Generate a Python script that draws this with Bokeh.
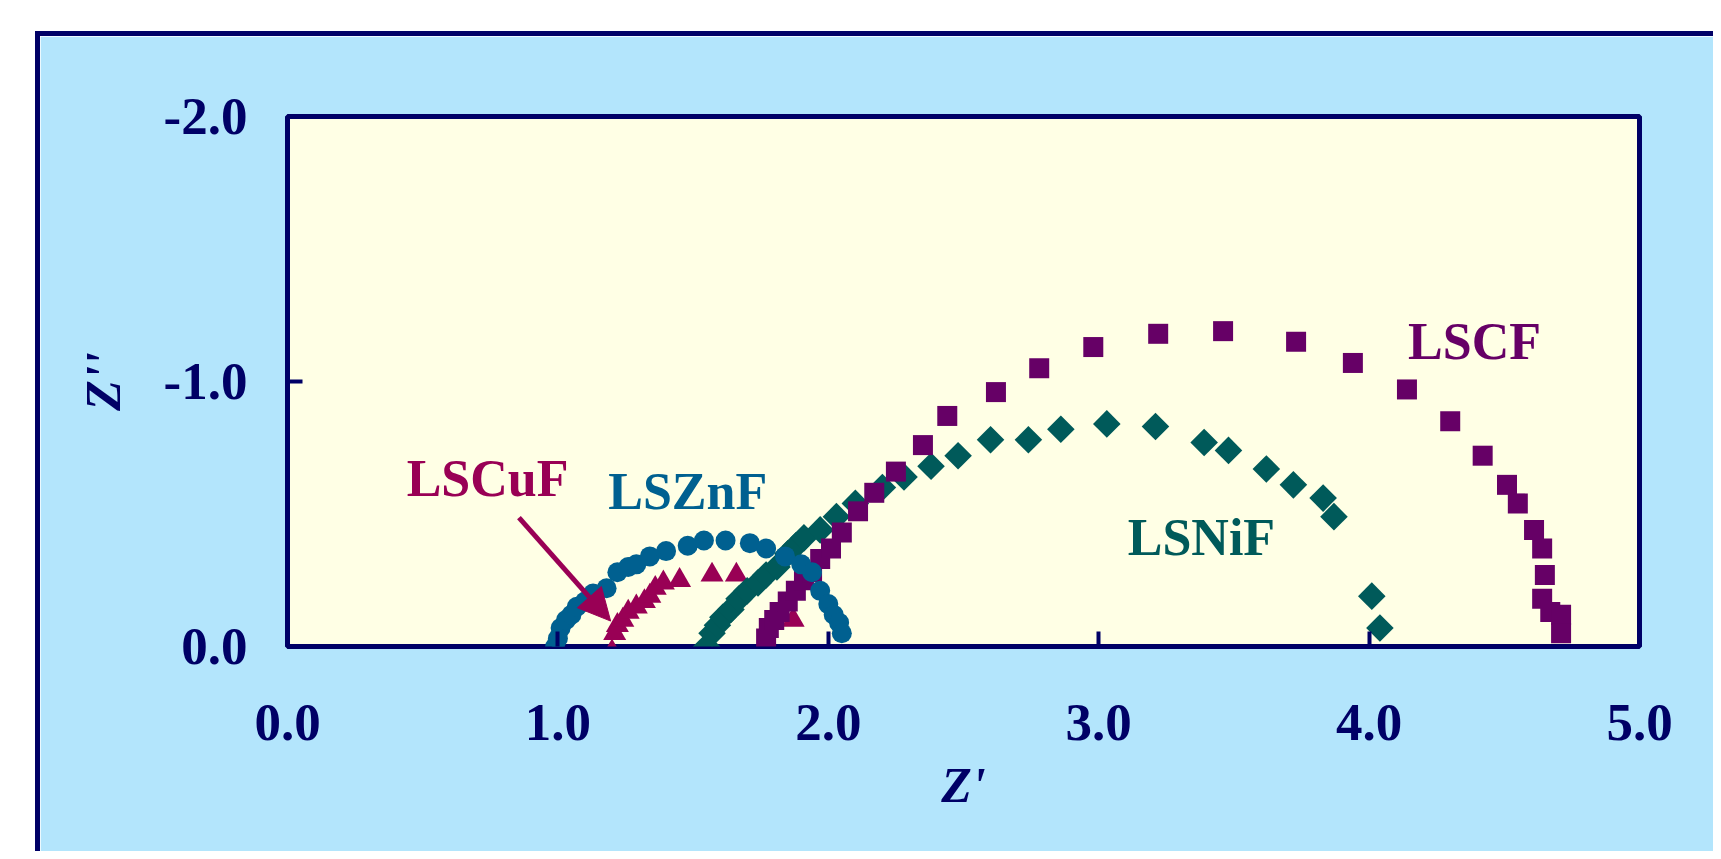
import numpy as np
from bokeh.plotting import figure
from bokeh.models import Range1d, FixedTicker, PrintfTickFormatter, Label, Arrow, NormalHead
from bokeh.embed import file_html
from bokeh.resources import INLINE

# ---------------- data (Z' , Z'' in ohm cm2) ----------------
lscf_x = [1.77, 1.78, 1.80, 1.82, 1.85, 1.88, 1.91, 1.94, 1.97, 2.01, 2.05, 2.11, 2.17, 2.25,
          2.35, 2.44, 2.62, 2.78, 2.98, 3.22, 3.46, 3.73, 3.94, 4.14, 4.30, 4.42, 4.51, 4.55,
          4.61, 4.64, 4.65, 4.64, 4.67, 4.71, 4.71]
lscf_y = [-0.03, -0.07, -0.10, -0.13, -0.17, -0.21, -0.25, -0.28, -0.33, -0.37, -0.43, -0.51,
          -0.58, -0.66, -0.76, -0.87, -0.96, -1.05, -1.13, -1.18, -1.19, -1.15, -1.07, -0.97,
          -0.85, -0.72, -0.61, -0.54, -0.44, -0.37, -0.27, -0.18, -0.13, -0.12, -0.05]

lsnif_x = [1.55, 1.57, 1.59, 1.61, 1.64, 1.67, 1.70, 1.74, 1.77, 1.81, 1.85, 1.88, 1.91, 1.97,
           2.03, 2.10, 2.20, 2.28, 2.38, 2.48, 2.60, 2.74, 2.86, 3.03, 3.21, 3.39, 3.48, 3.62,
           3.72, 3.83, 3.87, 4.01, 4.04]
lsnif_y = [-0.00, -0.05, -0.08, -0.11, -0.14, -0.18, -0.21, -0.24, -0.27, -0.30, -0.35, -0.38,
           -0.41, -0.44, -0.49, -0.54, -0.60, -0.64, -0.68, -0.72, -0.78, -0.78, -0.82, -0.84,
           -0.83, -0.77, -0.74, -0.67, -0.61, -0.56, -0.49, -0.19, -0.07]

lsznf_x = [0.99, 1.00, 1.01, 1.03, 1.05, 1.07, 1.10, 1.13, 1.18, 1.22, 1.26, 1.29, 1.34, 1.40,
           1.48, 1.54, 1.62, 1.71, 1.77, 1.84, 1.90, 1.94, 1.97, 2.00, 2.02, 2.04, 2.05]
lsznf_y = [-0.00, -0.03, -0.07, -0.10, -0.12, -0.15, -0.17, -0.20, -0.22, -0.28, -0.30, -0.31,
           -0.34, -0.36, -0.38, -0.40, -0.40, -0.39, -0.37, -0.34, -0.31, -0.28, -0.21, -0.16,
           -0.12, -0.09, -0.05]

lscuf_x = [1.20, 1.21, 1.22, 1.24, 1.26, 1.29, 1.32, 1.34, 1.36, 1.39, 1.45, 1.57, 1.66, 1.87]
lscuf_y = [0.02, -0.05, -0.08, -0.10, -0.13, -0.15, -0.17, -0.19, -0.22, -0.24, -0.25, -0.27,
           -0.27, -0.10]

x_ticks = [0, 1, 2, 3, 4, 5]
y_ticks = [-2, -1, 0]

# ---------------- styling ----------------
NAVY = "#000066"
C_LSCF = "#660066"
C_LSNIF = "#005A5A"
C_LSZNF = "#006090"
C_LSCUF = "#990055"
FONT = "Liberation Serif"

p = figure(width=1678, height=820, output_backend="svg", toolbar_location=None,
           x_range=Range1d(0, 5), y_range=Range1d(0, -2),
           min_border_left=247, min_border_right=79, min_border_top=80, min_border_bottom=210,
           background_fill_color="#FFFFE5", border_fill_color="#B3E5FC",
           outline_line_color=NAVY, outline_line_width=5,
           styles={"margin-left": "35px", "margin-top": "31px",
                   "border-left": "5px solid #000066", "border-top": "5px solid #000066"})
p.grid.visible = False

for ax in (p.xaxis[0], p.yaxis[0]):
    ax.formatter = PrintfTickFormatter(format="%.1f")
    ax.axis_line_color = None
    ax.major_tick_in = 15
    ax.major_tick_out = 0
    ax.major_tick_line_color = NAVY
    ax.major_tick_line_width = 4
    ax.minor_tick_line_color = None
    ax.major_label_text_font = FONT
    ax.major_label_text_font_style = "bold"
    ax.major_label_text_font_size = "53px"
    ax.major_label_text_color = NAVY
    ax.axis_label_text_font = FONT
    ax.axis_label_text_font_style = "bold italic"
    ax.axis_label_text_font_size = "50px"
    ax.axis_label_text_color = NAVY

p.xaxis.ticker = FixedTicker(ticks=x_ticks)
p.yaxis.ticker = FixedTicker(ticks=y_ticks)
p.xaxis.axis_label = "Z'"
p.yaxis.axis_label = "Z''"
p.xaxis.major_label_standoff = 58
p.yaxis.major_label_standoff = 40
p.xaxis.axis_label_standoff = 14
p.yaxis.axis_label_standoff = 30

# glyphs (drawing order: triangles, diamonds, squares, circles)
p.scatter(lscuf_x, lscuf_y, marker="triangle", size=23, fill_color=C_LSCUF, line_color=None)
p.scatter(lsnif_x, lsnif_y, marker="square", angle=np.pi / 4, size=19.5, fill_color=C_LSNIF, line_color=None)
p.scatter(lscf_x, lscf_y, marker="square", size=20, fill_color=C_LSCF, line_color=None)
p.scatter(lsznf_x, lsznf_y, marker="circle", size=20, fill_color=C_LSZNF, line_color=None)

def lab(x, y, t, c):
    p.add_layout(Label(x=x, y=y, text=t, text_align="center", text_baseline="alphabetic",
                       text_font=FONT, text_font_style="bold", text_font_size="52px", text_color=c))

lab(4.39, -1.15, "LSCF", C_LSCF)
lab(3.38, -0.41, "LSNiF", C_LSNIF)
lab(1.48, -0.585, "LSZnF", C_LSZNF)
lab(0.74, -0.635, "LSCuF", C_LSCUF)

p.add_layout(Arrow(end=NormalHead(size=32, fill_color=C_LSCUF, line_color=C_LSCUF),
                   x_start=0.856, y_start=-0.486, x_end=1.195, y_end=-0.096,
                   line_color=C_LSCUF, line_width=5))

html = file_html(p, INLINE)
html = html.replace("<body>", '<body style="background:#F3F8FE">', 1)
open("out.html", "w").write(html)
